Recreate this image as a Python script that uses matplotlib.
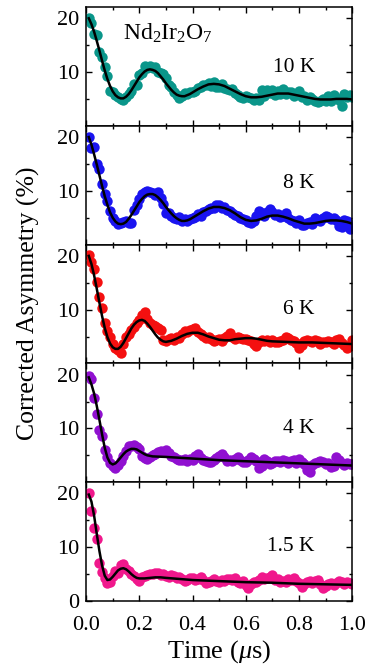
import matplotlib
matplotlib.use("Agg")
import matplotlib.pyplot as plt
from matplotlib.ticker import MultipleLocator, FixedLocator, FormatStrFormatter

plt.rcParams['font.family'] = ['Liberation Serif', 'DejaVu Serif']
plt.rcParams['mathtext.fontset'] = 'custom'
plt.rcParams['mathtext.rm'] = 'Liberation Serif'
plt.rcParams['mathtext.it'] = 'Liberation Serif:italic'

# measured asymmetry, time grid 0.01 ... 1.00 us
t_data = [round(0.01 * i, 2) for i in range(1, 101)]

a_10K = [20.1, 19.2, 17.0, 16.8, 13.7, 12.8, 11.0, 9.2, 6.5, 6.2,
         5.8, 5.3, 5.0, 4.8, 5.3, 5.9, 6.5, 7.8, 7.5, 9.4,
         9.8, 11.1, 10.7, 11.2, 10.8, 11.0, 10.0, 9.8, 9.6, 8.8,
         7.5, 7.2, 6.3, 5.8, 5.2, 5.5, 6.1, 5.9, 6.3, 6.2,
         6.4, 7.1, 7.3, 7.5, 7.6, 7.9, 7.4, 8.1, 7.3, 7.2,
         7.7, 7.0, 6.8, 6.6, 6.9, 6.1, 5.8, 5.4, 5.2, 5.5,
         5.3, 5.1, 4.8, 5.2, 4.8, 6.6, 5.6, 6.7, 6.1, 6.6,
         5.8, 6.5, 6.0, 6.8, 5.9, 6.2, 6.3, 5.6, 6.0, 6.5,
         5.4, 5.5, 4.8, 5.3, 4.9, 4.6, 4.5, 4.7, 5.0, 4.6,
         5.6, 4.7, 5.8, 5.2, 4.8, 3.6, 5.9, 5.4, 5.8, 5.3]

a_8K = [20.1, 18.0, 18.1, 15.0, 14.1, 11.2, 9.5, 8.2, 6.3, 5.0,
        4.4, 3.9, 4.0, 4.2, 4.4, 4.0, 4.1, 6.5, 7.4, 8.4,
        9.5, 9.7, 9.9, 9.8, 9.6, 9.3, 9.7, 8.6, 7.6, 5.8,
        5.9, 5.4, 4.9, 4.7, 5.1, 4.4, 4.7, 4.4, 4.8, 4.9,
        5.2, 5.6, 5.4, 6.0, 6.3, 6.6, 6.9, 6.8, 7.3, 7.4,
        6.9, 7.0, 6.5, 6.2, 5.9, 5.5, 5.3, 5.0, 4.7, 4.6,
        4.2, 4.0, 4.3, 5.4, 6.2, 5.8, 5.3, 6.0, 6.6, 6.0,
        5.5, 5.6, 5.2, 5.3, 5.9, 5.0, 4.6, 4.3, 4.0, 4.5,
        3.7, 3.6, 4.1, 4.2, 3.9, 5.0, 4.6, 4.3, 4.9, 5.3,
        5.2, 4.7, 4.9, 4.6, 3.4, 3.3, 4.5, 4.3, 2.9, 3.3]

a_6K = [20.1, 18.9, 17.6, 15.2, 12.3, 10.3, 7.6, 6.0, 4.9, 3.6,
        2.9, 2.4, 2.0, 3.6, 4.9, 5.5, 6.2, 6.8, 7.6, 8.1,
        9.0, 9.5, 8.2, 7.6, 7.2, 7.0, 6.6, 6.3, 4.4, 4.2,
        4.5, 4.7, 4.4, 5.0, 4.8, 5.5, 6.0, 5.8, 6.2, 6.4,
        6.6, 5.9, 5.5, 5.1, 4.8, 4.9, 4.5, 4.2, 4.4, 4.6,
        4.2, 4.8, 5.1, 5.7, 4.9, 4.6, 5.0, 4.8, 4.5, 4.6,
        4.3, 4.1, 3.6, 3.2, 4.0, 4.4, 4.2, 4.3, 4.0, 4.3,
        3.9, 4.0, 4.2, 4.4, 4.9, 4.7, 4.4, 4.1, 3.8, 2.8,
        3.4, 4.2, 4.4, 4.1, 4.0, 4.3, 4.1, 3.7, 4.0, 3.9,
        4.2, 4.0, 3.6, 4.3, 4.6, 3.8, 3.5, 2.8, 3.2, 4.3]

a_4K = [19.7, 19.2, 15.7, 12.6, 9.8, 8.6, 6.0, 4.6, 3.5, 3.0,
        2.6, 3.2, 4.0, 4.9, 5.8, 6.8, 6.7, 6.9, 6.6, 6.1,
        4.8, 4.5, 4.3, 4.6, 5.0, 5.3, 5.6, 5.8, 5.6, 5.9,
        5.4, 4.9, 4.6, 4.4, 4.2, 4.1, 4.3, 4.0, 4.4, 4.2,
        4.8, 5.3, 4.5, 4.2, 4.0, 3.8, 3.7, 4.2, 4.5, 4.9,
        5.3, 4.6, 4.0, 4.2, 3.9, 4.4, 4.7, 4.2, 3.8, 3.7,
        4.1, 4.7, 4.4, 3.9, 2.6, 3.1, 4.3, 3.9, 3.4, 3.6,
        3.9, 4.0, 3.8, 4.1, 3.9, 3.6, 4.0, 4.2, 3.5, 4.3,
        3.7, 3.3, 2.2, 1.9, 3.2, 3.5, 3.8, 4.0, 3.7, 3.4,
        3.6, 2.8, 3.1, 4.7, 4.2, 3.5, 3.2, 3.6, 3.3, 3.4]

a_1p5K = [20.0, 16.8, 13.6, 11.5, 7.0, 5.4, 4.3, 3.3, 3.6, 4.6,
          5.5, 5.3, 6.7, 6.8, 6.0, 5.6, 5.0, 4.6, 4.1, 3.8,
          4.4, 4.7, 4.8, 5.1, 5.0, 5.3, 5.2, 4.9, 5.1, 4.6,
          4.4, 4.8, 4.6, 4.3, 4.5, 4.0, 3.8, 3.9, 4.2, 4.3,
          3.9, 4.0, 4.4, 3.9, 3.4, 3.6, 3.8, 4.0, 3.7, 3.5,
          3.9, 3.8, 4.0, 4.1, 3.9, 4.3, 3.6, 3.4, 3.8, 2.9,
          2.4, 3.2, 3.6, 3.5, 3.9, 4.4, 4.1, 4.2, 4.5, 4.8,
          3.9, 4.1, 3.6, 3.8, 3.5, 4.0, 3.9, 4.2, 3.7, 3.3,
          2.6, 3.1, 3.5, 3.8, 3.4, 3.7, 3.9, 3.2, 2.4, 2.7,
          3.1, 3.4, 3.0, 3.3, 3.8, 3.6, 3.2, 3.5, 3.4, 3.1]

# fitted curves (time, asymmetry)
fit_t_10K = [0.01, 0.02, 0.03, 0.04, 0.05, 0.06, 0.07, 0.08, 0.09, 0.10,
             0.11, 0.12, 0.13, 0.14, 0.15, 0.16, 0.17, 0.18, 0.19, 0.20,
             0.21, 0.22, 0.23, 0.24, 0.25, 0.26, 0.27, 0.28, 0.29, 0.30,
             0.31, 0.32, 0.33, 0.34, 0.35, 0.36, 0.37, 0.38, 0.39, 0.40,
             0.42, 0.44, 0.46, 0.48, 0.50, 0.52, 0.54, 0.56, 0.58, 0.60,
             0.62, 0.64, 0.66, 0.68, 0.70, 0.72, 0.74, 0.76, 0.78, 0.80,
             0.82, 0.84, 0.86, 0.88, 0.90, 0.92, 0.94, 0.96, 0.98, 1.00]
fit_a_10K = [20.0, 18.9, 17.5, 15.8, 14.0, 12.1, 10.3, 8.7, 7.4, 6.4,
             5.7, 5.3, 5.1, 5.1, 5.4, 5.9, 6.6, 7.4, 8.2, 9.0,
             9.6, 10.1, 10.4, 10.5, 10.4, 10.2, 9.8, 9.2, 8.6, 7.9,
             7.3, 6.7, 6.2, 5.8, 5.6, 5.5, 5.5, 5.7, 5.9, 6.2,
             6.8, 7.3, 7.7, 7.8, 7.7, 7.4, 6.9, 6.4, 5.9, 5.5,
             5.3, 5.3, 5.4, 5.6, 5.8, 6.0, 6.0, 6.0, 5.8, 5.6,
             5.4, 5.2, 5.0, 4.9, 4.9, 4.9, 5.0, 5.0, 5.0, 4.9]

fit_t_8K = fit_t_10K
fit_a_8K = [20.0, 18.6, 16.8, 14.9, 12.9, 10.9, 9.0, 7.4, 6.0, 5.0,
            4.3, 3.9, 3.8, 3.9, 4.2, 4.8, 5.5, 6.3, 7.1, 7.9,
            8.5, 9.0, 9.3, 9.4, 9.4, 9.2, 8.8, 8.3, 7.7, 7.0,
            6.4, 5.8, 5.3, 4.9, 4.6, 4.4, 4.4, 4.5, 4.7, 5.0,
            5.6, 6.2, 6.7, 7.0, 7.0, 6.8, 6.4, 5.8, 5.1, 4.6,
            4.4, 4.5, 4.8, 5.2, 5.4, 5.4, 5.2, 4.9, 4.5, 4.2,
            3.9, 3.9, 4.0, 4.2, 4.4, 4.5, 4.5, 4.4, 4.2, 3.9]

fit_t_6K = [0.01, 0.02, 0.03, 0.04, 0.05, 0.06, 0.07, 0.08, 0.09, 0.10,
            0.11, 0.12, 0.13, 0.14, 0.15, 0.16, 0.17, 0.18, 0.19, 0.20,
            0.21, 0.22, 0.23, 0.24, 0.25, 0.26, 0.27, 0.28, 0.29, 0.30,
            0.31, 0.32, 0.34, 0.36, 0.38, 0.40, 0.42, 0.44, 0.46, 0.48,
            0.50, 0.52, 0.54, 0.56, 0.58, 0.60, 0.62, 0.64, 0.66, 0.68,
            0.70, 0.75, 0.80, 0.85, 0.90, 0.95, 1.00]
fit_a_6K = [20.0, 18.5, 16.4, 13.9, 11.3, 8.8, 6.6, 4.9, 3.7, 3.0,
            2.7, 2.7, 3.1, 3.8, 4.7, 5.6, 6.5, 7.2, 7.7, 8.0,
            8.1, 7.9, 7.4, 6.8, 6.1, 5.4, 4.8, 4.4, 4.1, 4.0,
            4.1, 4.2, 4.6, 5.1, 5.5, 5.7, 5.7, 5.4, 5.0, 4.7,
            4.4, 4.3, 4.3, 4.5, 4.6, 4.7, 4.7, 4.6, 4.4, 4.2,
            4.1, 4.0, 3.9, 3.9, 3.8, 3.7, 3.6]

fit_t_4K = [0.01, 0.02, 0.03, 0.04, 0.05, 0.06, 0.07, 0.08, 0.09, 0.10,
            0.11, 0.12, 0.13, 0.14, 0.15, 0.16, 0.17, 0.18, 0.19, 0.20,
            0.21, 0.22, 0.23, 0.24, 0.25, 0.30, 0.40, 0.50, 0.60, 0.70,
            0.80, 0.90, 1.00]
fit_a_4K = [19.5, 18.2, 16.5, 14.2, 11.6, 8.9, 6.4, 4.6, 3.6, 3.3,
            3.5, 4.0, 4.6, 5.2, 5.7, 6.0, 6.2, 6.2, 6.1, 5.8,
            5.5, 5.2, 5.0, 4.9, 4.8, 4.7, 4.4, 4.1, 3.9, 3.7,
            3.5, 3.3, 3.1]

fit_t_1p5K = [0.01, 0.02, 0.03, 0.04, 0.05, 0.06, 0.07, 0.08, 0.09, 0.10,
              0.11, 0.12, 0.13, 0.14, 0.15, 0.16, 0.17, 0.18, 0.19, 0.20,
              0.22, 0.24, 0.26, 0.28, 0.30, 0.35, 0.40, 0.50, 0.60, 0.70,
              0.80, 0.90, 1.00]
fit_a_1p5K = [19.8, 18.5, 15.9, 12.5, 9.3, 6.6, 4.7, 3.9, 4.0, 4.5,
              5.1, 5.7, 6.0, 6.1, 5.9, 5.5, 5.0, 4.6, 4.3, 4.2,
              4.2, 4.3, 4.4, 4.4, 4.3, 4.1, 3.9, 3.7, 3.5, 3.4,
              3.2, 3.1, 3.0]

labels = ['10 K', '8 K', '6 K', '4 K', '1.5 K']
colors = ['#0a968a', '#1a14f0', '#f41010', '#9010d0', '#f0188c']
data = [a_10K, a_8K, a_6K, a_4K, a_1p5K]
fits = [(fit_t_10K, fit_a_10K), (fit_t_8K, fit_a_8K), (fit_t_6K, fit_a_6K),
        (fit_t_4K, fit_a_4K), (fit_t_1p5K, fit_a_1p5K)]
label_y = [0.49, 0.515, 0.45, 0.45, 0.455]

fig, axes = plt.subplots(5, 1, figsize=(3.68, 6.66), dpi=100, sharex=True)
fig.subplots_adjust(left=0.234, right=0.957, top=0.9895, bottom=0.0976, hspace=0)

for i, ax in enumerate(axes):
    ax.plot(t_data, data[i], 'o', color=colors[i], markersize=7.5, markeredgewidth=0)
    ax.plot(fits[i][0], fits[i][1], '-', color='black', linewidth=1.8)
    ax.set_xlim(0, 1.0)
    ax.set_ylim(0, 22.1)
    ax.xaxis.set_major_locator(MultipleLocator(0.2))
    ax.xaxis.set_minor_locator(MultipleLocator(0.1))
    if i == 4:
        ax.yaxis.set_major_locator(FixedLocator([0, 10, 20]))
    else:
        ax.yaxis.set_major_locator(FixedLocator([10, 20]))
    ax.yaxis.set_minor_locator(FixedLocator([5, 15]))
    ax.tick_params(which='both', direction='in', top=True, right=True,
                   labelsize=16, width=1, pad=5)
    ax.tick_params(axis='x', which='both', pad=11)
    ax.tick_params(which='major', length=4.5)
    ax.tick_params(which='minor', length=2.5)
    for s in ax.spines.values():
        s.set_linewidth(1.1)
    ax.text(0.86, label_y[i], labels[i], transform=ax.transAxes,
            ha='right', va='center', fontsize=15.5)

axes[0].text(0.14, 0.78, r'Nd$_2$Ir$_2$O$_7$', transform=axes[0].transAxes,
             ha='left', va='center', fontsize=17)
axes[4].set_xlabel(r'Time ($\mu$s)', fontsize=19, labelpad=2)
axes[4].xaxis.set_major_formatter(FormatStrFormatter('%.1f'))
fig.text(0.076, 0.545, 'Corrected Asymmetry (%)', rotation=90,
         ha='center', va='center', fontsize=18.5)

plt.savefig('out.png', dpi=100)
